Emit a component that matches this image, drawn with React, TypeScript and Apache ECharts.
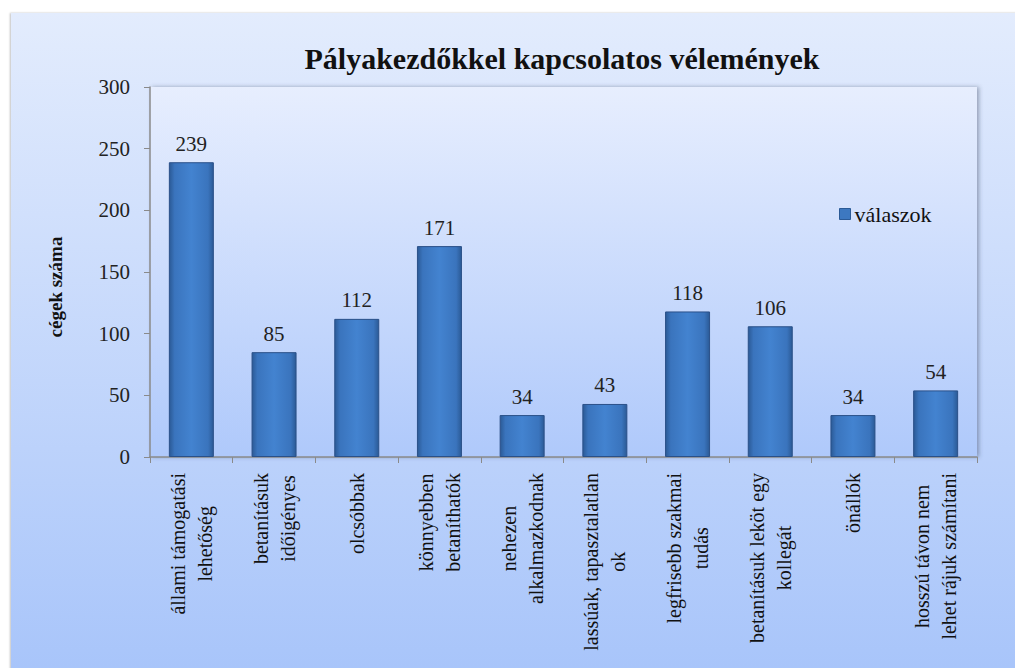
import React, { useEffect, useRef } from "react";
import * as echarts from "echarts";

const TITLE = "Pályakezdőkkel kapcsolatos vélemények";
const Y_NAME = "cégek száma";
const SERIES_NAME = "válaszok";
const categories = [
  "állami támogatási\nlehetőség",
  "betanításuk\nidőigényes",
  "olcsóbbak",
  "könnyebben\nbetaníthatók",
  "nehezen\nalkalmazkodnak",
  "lassúak, tapasztalatlan\nok",
  "legfrisebb szakmai\ntudás",
  "betanításuk leköt egy\nkollegát",
  "önállók",
  "hosszú távon nem\nlehet rájuk számítani",
];
const values = [239, 85, 112, 171, 34, 43, 118, 106, 34, 54];
const yTicks = { min: 0, max: 300, interval: 50 };

const FONT = "Liberation Serif";

export default function App() {
  const ref = useRef<HTMLDivElement>(null);
  useEffect(() => {
    if (!ref.current) return;
    const chart = echarts.init(ref.current, undefined, { renderer: "svg" });
    const barGrad = new echarts.graphic.LinearGradient(0, 0, 1, 0, [
      { offset: 0, color: "#2b5a96" },
      { offset: 0.12, color: "#3a74bd" },
      { offset: 0.5, color: "#4383d0" },
      { offset: 0.88, color: "#3a74bd" },
      { offset: 1, color: "#2b5a96" },
    ]);
    chart.setOption({
      animation: false,
      backgroundColor: "transparent",
      title: {
        text: TITLE,
        left: 557,
        top: 38,
        textAlign: "center",
        textStyle: { fontFamily: FONT, fontSize: 30, fontWeight: "bold", color: "#111" },
      },
      legend: {
        data: [SERIES_NAME],
        left: 834,
        top: 198,
        icon: "rect",
        itemWidth: 11,
        itemHeight: 11,
        itemGap: 5,
        itemStyle: { color: "#3d78c0", borderColor: "#2b5a96", borderWidth: 1 },
        textStyle: { fontFamily: FONT, fontSize: 22, color: "#111", padding: [0, 0, 0, -1] },
      },
      graphic: [
        {
          type: "text",
          x: 55,
          y: 287,
          rotation: Math.PI / 2,
          style: {
            text: Y_NAME,
            font: `bold 19px ${FONT}`,
            fill: "#111",
            textAlign: "center",
            textVerticalAlign: "middle",
          },
        },
      ],
      grid: {
        left: 150,
        right: 38,
        top: 87,
        bottom: 211,
        outerBoundsMode: "none",
        show: true,
        borderWidth: 0,
        backgroundColor: new echarts.graphic.LinearGradient(0, 0, 0, 1, [
          { offset: 0, color: "#e7eefe" },
          { offset: 1, color: "#afc9fb" },
        ]),
        shadowColor: "rgba(60,70,100,0.45)",
        shadowBlur: 4,
        shadowOffsetX: 2,
        shadowOffsetY: 0,
      },
      xAxis: {
        type: "category",
        data: categories,
        axisLine: { lineStyle: { color: "#8a8a8a", width: 1.5 } },
        axisTick: { show: true, length: 6, lineStyle: { color: "#8a8a8a" } },
        axisLabel: {
          interval: 0,
          rotate: 90,
          margin: 16,
          fontFamily: FONT,
          fontSize: 20,
          color: "#111",
          formatter: (v: string) =>
            v
              .split("\n")
              .map((s) => `{a|${s}}`)
              .join("\n"),
          rich: {
            a: {
              align: "center",
              fontFamily: FONT,
              fontSize: 20,
              lineHeight: 27,
              color: "#111",
            },
          },
        },
      },
      yAxis: {
        type: "value",
        min: yTicks.min,
        max: yTicks.max,
        interval: yTicks.interval,
        axisLine: { show: true, lineStyle: { color: "#8a8a8a", width: 1.5 } },
        axisTick: { show: true, length: 6, lineStyle: { color: "#8a8a8a" } },
        splitLine: { show: false },
        axisLabel: {
          margin: 20,
          fontFamily: FONT,
          fontSize: 21,
          color: "#222",
        },
      },
      series: [
        {
          name: SERIES_NAME,
          type: "bar",
          data: values,
          barWidth: 45,
          itemStyle: {
            color: barGrad,
            borderColor: "#2a5088",
            borderWidth: 1,
          },
          label: {
            show: true,
            position: "top",
            distance: 8,
            fontFamily: FONT,
            fontSize: 21,
            color: "#222",
          },
        },
      ],
    });
    return () => chart.dispose();
  }, []);
  return (
    <div style={{ position: "fixed", left: 0, top: 0, width: 1015, height: 668, background: "#fff", overflow: "hidden" }}>
      <style>{`.chart-host svg text, .chart-host svg tspan { font-family: "Liberation Serif", "Times New Roman", serif !important; }`}</style>
      <div
        style={{
          position: "absolute",
          left: 11,
          top: 13,
          width: 1020,
          height: 670,
          background: "linear-gradient(#e3ecfd, #a7c4fa)",
          boxShadow: "-1px 0 2px rgba(0,0,0,0.25)",
        }}
      />
      <div ref={ref} className="chart-host" style={{ position: "absolute", left: 0, top: 0, width: 1015, height: 668 }} />
    </div>
  );
}
